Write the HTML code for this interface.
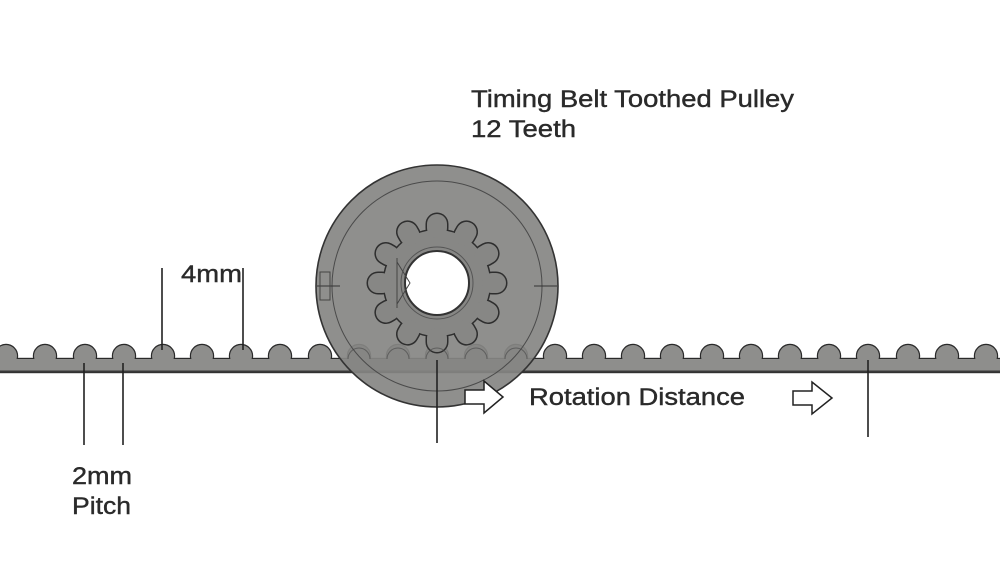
<!DOCTYPE html>
<html><head><meta charset="utf-8"><style>
html,body{margin:0;padding:0;background:#fff;}
svg{display:block}
text{font-family:"Liberation Sans",Arial,sans-serif;fill:#2a2a2a;stroke:#2a2a2a;stroke-width:0.4;}
</style></head><body>
<svg width="1000" height="563" viewBox="0 0 1000 563" xmlns="http://www.w3.org/2000/svg">
<rect width="1000" height="563" fill="#fff"/>
<defs>
<g id="bumps">
<circle cx="6" cy="356" r="11"/><circle cx="45" cy="356" r="11"/><circle cx="85" cy="356" r="11"/><circle cx="124" cy="356" r="11"/><circle cx="163" cy="356" r="11"/><circle cx="202" cy="356" r="11"/><circle cx="241" cy="356" r="11"/><circle cx="280" cy="356" r="11"/><circle cx="320" cy="356" r="11"/><circle cx="359" cy="356" r="11"/><circle cx="398" cy="356" r="11"/><circle cx="437" cy="356" r="11"/><circle cx="476" cy="356" r="11"/><circle cx="516" cy="356" r="11"/><circle cx="555" cy="356" r="11"/><circle cx="594" cy="356" r="11"/><circle cx="633" cy="356" r="11"/><circle cx="672" cy="356" r="11"/><circle cx="712" cy="356" r="11"/><circle cx="751" cy="356" r="11"/><circle cx="790" cy="356" r="11"/><circle cx="829" cy="356" r="11"/><circle cx="868" cy="356" r="11"/><circle cx="908" cy="356" r="11"/><circle cx="947" cy="356" r="11"/><circle cx="986" cy="356" r="11"/>
<rect x="-5" y="359" width="1010" height="13"/>
</g>
<g id="gear">
<circle cx="0" cy="0" r="53"/>
<g id="tooth"><rect x="-10" y="-69" width="20" height="24" rx="10"/></g>
<use href="#tooth" transform="rotate(30)"/><use href="#tooth" transform="rotate(60)"/><use href="#tooth" transform="rotate(90)"/><use href="#tooth" transform="rotate(120)"/><use href="#tooth" transform="rotate(150)"/><use href="#tooth" transform="rotate(180)"/><use href="#tooth" transform="rotate(210)"/><use href="#tooth" transform="rotate(240)"/><use href="#tooth" transform="rotate(270)"/><use href="#tooth" transform="rotate(300)"/><use href="#tooth" transform="rotate(330)"/>
</g>
</defs>
<use href="#bumps" fill="#2a2a2a" stroke="#2a2a2a" stroke-width="2.4"/>
<use href="#bumps" fill="#8e8e8c"/>
<line x1="0" y1="371.5" x2="1000" y2="371.5" stroke="#3a3a3a" stroke-width="2"/>
<circle cx="437" cy="286" r="121" fill="#858583" fill-opacity="0.92" stroke="#333" stroke-width="1.6"/>
<circle cx="437" cy="286" r="105" fill="none" stroke="#4a4a4a" stroke-width="1"/>
<g transform="translate(437,283)">
<use href="#gear" fill="#2e2e2e" stroke="#2e2e2e" stroke-width="3"/>
<use href="#gear" fill="#878785"/>
</g>
<circle cx="437" cy="283" r="36" fill="none" stroke="#555" stroke-width="1"/>
<circle cx="437" cy="283" r="32" fill="#fff" stroke="#333" stroke-width="2"/>
<path d="M397 258 L397 308 M397 262 L410 283 L397 304" fill="none" stroke="#444" stroke-width="1"/>
<line x1="317" y1="286" x2="340" y2="286" stroke="#333" stroke-width="1"/>
<rect x="320" y="272" width="10" height="28" fill="none" stroke="#444" stroke-width="1"/>
<line x1="534" y1="286" x2="557" y2="286" stroke="#333" stroke-width="1"/>
<g fill="none" stroke="#444" stroke-width="1" opacity="0.6">
<path d="M348 359 A11 11 0 1 1 370 359 M387 359 A11 11 0 1 1 409 359 M426 359 A11 11 0 1 1 448 359 M465 359 A11 11 0 1 1 487 359 M505 359 A11 11 0 1 1 527 359"/>
</g>
<g stroke="#222" stroke-width="1.6">
<line x1="84" y1="363" x2="84" y2="445"/>
<line x1="123" y1="363" x2="123" y2="445"/>
<line x1="162" y1="268" x2="162" y2="350"/>
<line x1="243" y1="268" x2="243" y2="350"/>
<line x1="437" y1="360" x2="437" y2="443"/>
<line x1="868" y1="360" x2="868" y2="437"/>
</g>
<path d="M465 390 L484 390 L484 381 L503 397 L484 413 L484 404 L465 404 Z" fill="#fff" stroke="#222" stroke-width="1.5"/>
<path d="M793 391 L812 391 L812 382 L832 398 L812 414 L812 405 L793 405 Z" fill="#fff" stroke="#222" stroke-width="1.5"/>
<text x="471" y="107" font-size="24" textLength="323" lengthAdjust="spacingAndGlyphs">Timing Belt Toothed Pulley</text>
<text x="471" y="137" font-size="24" textLength="105" lengthAdjust="spacingAndGlyphs">12 Teeth</text>
<text x="181" y="282" font-size="24" textLength="61" lengthAdjust="spacingAndGlyphs">4mm</text>
<text x="72" y="484" font-size="24" textLength="60" lengthAdjust="spacingAndGlyphs">2mm</text>
<text x="72" y="514" font-size="24" textLength="59" lengthAdjust="spacingAndGlyphs">Pitch</text>
<text x="529" y="405" font-size="24" textLength="216" lengthAdjust="spacingAndGlyphs">Rotation Distance</text>
</svg>
</body></html>
